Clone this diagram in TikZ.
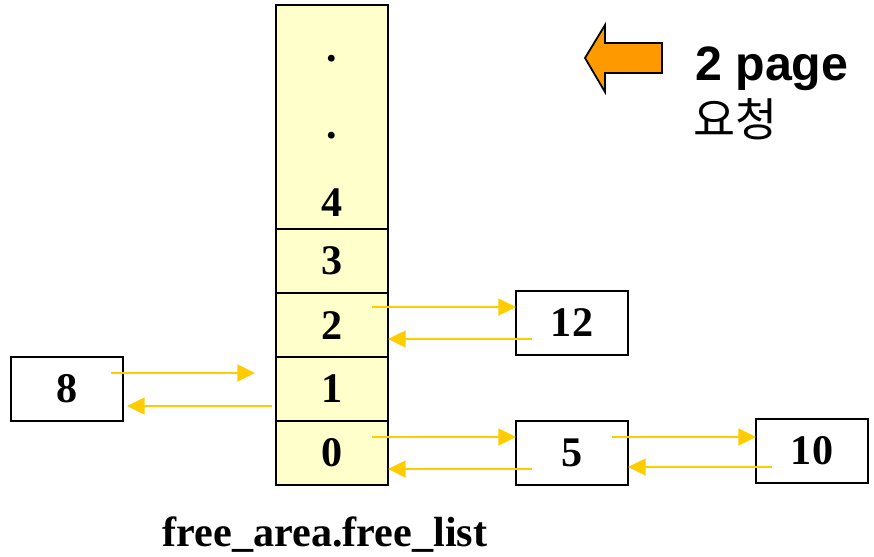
\documentclass[tikz,border=0pt]{standalone}
\usepackage{fontspec}
\setmainfont{Liberation Serif}
\newfontfamily\headfont{Liberation Sans}
\newfontfamily\krfont{Noto Sans CJK KR}
\usepackage{tikz}
\usetikzlibrary{positioning}
\usetikzlibrary{arrows.meta}
\usepackage{xcolor}
\definecolor{cellfill}{HTML}{FFFFCC}
\definecolor{linkcol}{HTML}{FFCC00}
\definecolor{reqcol}{HTML}{FF9900}

\tikzset{
	cell/.style={draw, line width=1.2pt, fill=cellfill, minimum width=2.24cm, minimum height=1.28cm, outer sep=0pt, inner sep=0pt, font=\fontsize{24}{28}\selectfont\bfseries},
	pagebox/.style={draw, line width=1.2pt, fill=white, minimum width=2.24cm, minimum height=1.28cm, outer sep=0pt, inner sep=0pt, font=\fontsize{24}{28}\selectfont\bfseries},
	link/.style={draw=linkcol, line width=1.3pt, -{Triangle[length=10pt,width=9.5pt]}}
}

\begin{document}
\begin{tikzpicture}[x=0.02cm, y=-0.02cm]
				\useasboundingbox (0, 0) rectangle (874, 556);
				% Free list column:
				\node[cell](c0) at (332, 453){0};
				\node[cell, above=0pt of c0](c1){1};
				\node[cell, above=0pt of c1](c2){2};
				\node[cell, above=0pt of c2](c3){3};
				\node[cell, above=0pt of c3, minimum height=4.48cm](ctop){};
				\node[font=\fontsize{24}{28}\selectfont\bfseries](dotA) at (332, 59){.};
				\node[font=\fontsize{24}{28}\selectfont\bfseries](dotB) at (332, 136){.};
				\node[font=\fontsize{24}{28}\selectfont\bfseries](c4) at (332, 203){4};
				\node[font=\fontsize{24}{28}\selectfont\bfseries, anchor=base](title) at (325, 546){free\_area.free\_list};
				% Free page blocks:
				\node[pagebox](b8) at (67, 389){8};
				\node[pagebox](b12) at (572, 323){12};
				\node[pagebox](b5) at (572, 453){5};
				\node[pagebox](b10) at (812, 451){10};
				% Links:
				\draw[link] ([shift={(-16, -18)}]c2.east) coordinate(s2) -- (s2 -| b12.west);
				\draw[link] ([shift={(16, 16)}]b12.west) coordinate(r12) -- (r12 -| c2.east);
				\draw[link] ([shift={(-16, -16)}]c0.east) coordinate(s0) -- (s0 -| b5.west);
				\draw[link] ([shift={(16, 16)}]b5.west) coordinate(r5) -- (r5 -| c0.east);
				\draw[link] ([shift={(-12, -16)}]b8.east) coordinate(s8) -- ([xshift=-0.42cm]s8 -| c1.west);
				\draw[link] ([shift={(-4, 17)}]c1.west) coordinate(r1) -- ([xshift=0.08cm]r1 -| b8.east);
				\draw[link] ([shift={(-16, -16)}]b5.east) coordinate(s5) -- (s5 -| b10.west);
				\draw[link] ([shift={(16, 16)}]b10.west) coordinate(r10) -- (r10 -| b5.east);
				% Request:
				\draw[line width=1pt, fill=reqcol, line join=miter] (585, 58) -- (605, 25) -- (605, 43) -- (662, 43) -- (662, 73) -- (605, 73) -- (605, 92) -- cycle;
				\node[anchor=base west, inner sep=0pt, font=\headfont\fontsize{27.5}{30}\selectfont\bfseries](req) at (695, 80){2 page};
				\node[anchor=west, inner sep=0pt, font=\krfont\fontsize{26}{30}\selectfont](reqkr) at (693, 119){요청};
			\end{tikzpicture}
\end{document}
